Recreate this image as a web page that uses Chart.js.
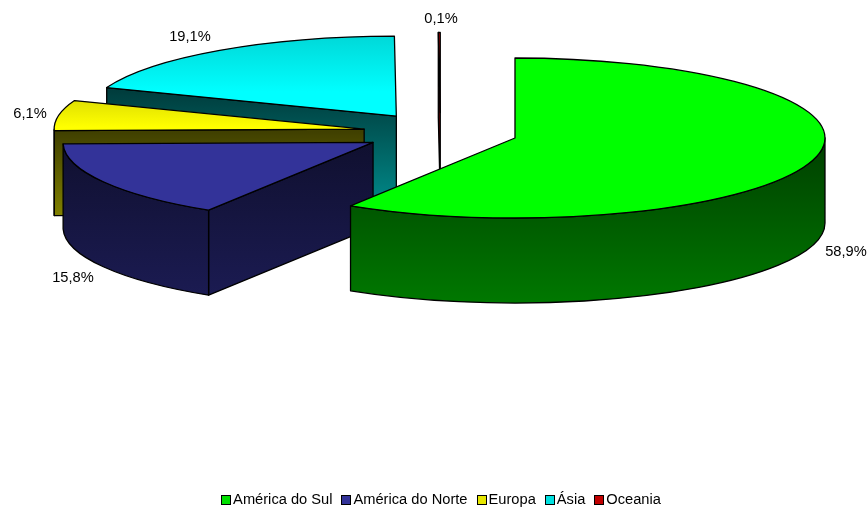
<!DOCTYPE html>
<html>
<head>
<meta charset="utf-8">
<style>
html,body{margin:0;padding:0;background:#fff;overflow:hidden}
#w{position:relative;width:868px;height:508px}
canvas{display:block}
</style>
<script src="https://cdn.jsdelivr.net/npm/chart.js@4/dist/chart.umd.min.js"></script>
</head>
<body>
<div id="w"><canvas id="c" width="868" height="508"></canvas></div>
<script>
// ---- data ----
const categories = ["América do Sul", "América do Norte", "Europa", "Ásia", "Oceania"];
const shares = [58.9, 15.8, 6.1, 19.1, 0.1];

// ---- styles ----
const swatchColors = ["#00e000", "#333399", "#e6e600", "#00e0e0", "#c00000"];
const topColors = [["#00ff00","#00ff00"],["#333399","#333399"],["#e0e000","#ffff00"],["#00d8d8","#00ffff"],["#c00000","#c00000"]];
const topRange = [[58,218],[143,211],[100,127],[36,92],[32,112]];
const wallColors = [["#004000","#007800"],["#101030","#1b1b52"],["#404000","#808000"],["#003c3c","#008080"],["#600000","#800000"]];
const wallRange = [[140,303],[145,296],[132,215],[90,192],[112,197]];
const labelAnchors = [[846,252],[73,278],[30,114],[190,37],[441,19]];

const RADIUS = 310, SQUASH = 80/310, DEPTH = 85, EXPLODE = 77.5, CENTER_Y = 132.5;
const FONT_SIZE = 14.67;
const FONT = FONT_SIZE + 'px "Liberation Sans", Arial, sans-serif';

class Pie3D extends Chart.DoughnutController {
  draw() {
    const ctx = this.chart.ctx;
    const arcs = this._cachedMeta.data;
    ctx.save();
    ctx.lineWidth = 1.3;
    ctx.lineJoin = 'round';
    ctx.strokeStyle = '#000';
    for (let i = arcs.length - 1; i >= 0; i--) this.drawSlice(ctx, arcs[i], i);
    ctx.restore();
  }
  drawSlice(ctx, arc, i) {
    const s = arc.startAngle, e = arc.endAngle, r = arc.outerRadius, mid = (s + e) / 2;
    const ex = Math.cos(mid) * EXPLODE, ey = Math.sin(mid) * EXPLODE;
    const cx = arc.x + ex, cy = CENTER_Y + ey * SQUASH, ry = r * SQUASH;
    const pt = a => [cx + Math.cos(a) * r, cy + Math.sin(a) * ry];
    const wall = ctx.createLinearGradient(0, wallRange[i][0], 0, wallRange[i][1]);
    wall.addColorStop(0, wallColors[i][0]);
    wall.addColorStop(1, wallColors[i][1]);
    ctx.fillStyle = wall;
    const radial = a => {
      const p = pt(a);
      ctx.beginPath();
      ctx.moveTo(cx, cy);
      ctx.lineTo(p[0], p[1]);
      ctx.lineTo(p[0], p[1] + DEPTH);
      ctx.lineTo(cx, cy + DEPTH);
      ctx.closePath();
      ctx.fill();
      ctx.stroke();
    };
    if (Math.cos(s) < 0) radial(s);
    if (Math.cos(e) > 0) radial(e);
    const a0 = Math.max(s, 0), a1 = Math.min(e, Math.PI);
    if (a1 > a0) {
      ctx.beginPath();
      ctx.ellipse(cx, cy, r, ry, 0, a0, a1);
      ctx.ellipse(cx, cy + DEPTH, r, ry, 0, a1, a0, true);
      ctx.closePath();
      ctx.fill();
      ctx.stroke();
    }
    // top face: the library's own arc element under the squash transform
    const toLocal = y => arc.y - ey + (y - CENTER_Y) / SQUASH;
    const top = ctx.createLinearGradient(0, toLocal(topRange[i][0]), 0, toLocal(topRange[i][1]));
    top.addColorStop(0, topColors[i][0]);
    top.addColorStop(1, topColors[i][1]);
    const saved = arc.options;
    arc.options = Object.assign({}, saved, {backgroundColor: top, borderWidth: 0});
    ctx.save();
    ctx.translate(ex, CENTER_Y + ey * SQUASH);
    ctx.scale(1, SQUASH);
    ctx.translate(0, -arc.y);
    arc.draw(ctx);
    ctx.restore();
    arc.options = saved;
    ctx.beginPath();
    ctx.moveTo(cx, cy);
    ctx.ellipse(cx, cy, r, ry, 0, s, e);
    ctx.closePath();
    ctx.stroke();
  }
}
Pie3D.id = 'pie3d';
Chart.register(Pie3D);

const overlay = {
  id: 'overlay',
  afterDraw(chart) {
    const ctx = chart.ctx;
    const legend = chart.legend;
    ctx.save();
    legend.legendHitBoxes.forEach((b, i) => {
      const y = Math.round(b.top + b.height / 2 - 5);
      const x = Math.round(b.left) + 1;
      ctx.fillStyle = swatchColors[i];
      ctx.strokeStyle = '#000';
      ctx.lineWidth = 1;
      ctx.fillRect(x, y, 10, 10);
      ctx.strokeRect(x + .5, y + .5, 9, 9);
    });
    ctx.font = FONT;
    ctx.fillStyle = '#000';
    ctx.textAlign = 'center';
    ctx.textBaseline = 'middle';
    shares.forEach((v, i) => {
      ctx.fillText(v.toFixed(1).replace('.', ',') + '%', labelAnchors[i][0], labelAnchors[i][1]);
    });
    ctx.restore();
  }
};

new Chart(document.getElementById('c'), {
  type: 'pie3d',
  plugins: [overlay],
  data: {
    labels: categories,
    datasets: [{
      data: shares,
      backgroundColor: swatchColors,
      borderWidth: 0,
      radius: RADIUS,
      clip: false
    }]
  },
  options: {
    responsive: false,
    animation: false,
    cutout: 0,
    events: [],
    layout: {padding: {left: 13, right: 0, top: 0, bottom: -9.5}},
    plugins: {
      tooltip: {enabled: false},
      legend: {
        position: 'bottom',
        labels: {
          boxWidth: 5.67,
          boxHeight: 10,
          padding: 8,
          color: '#000',
          font: {family: '"Liberation Sans", Arial, sans-serif', size: FONT_SIZE},
          generateLabels: c => c.data.labels.map((t, i) => ({
            text: t, index: i, fillStyle: 'rgba(0,0,0,0)', strokeStyle: 'rgba(0,0,0,0)', lineWidth: 0
          }))
        }
      }
    }
  }
});
</script>
</body>
</html>
